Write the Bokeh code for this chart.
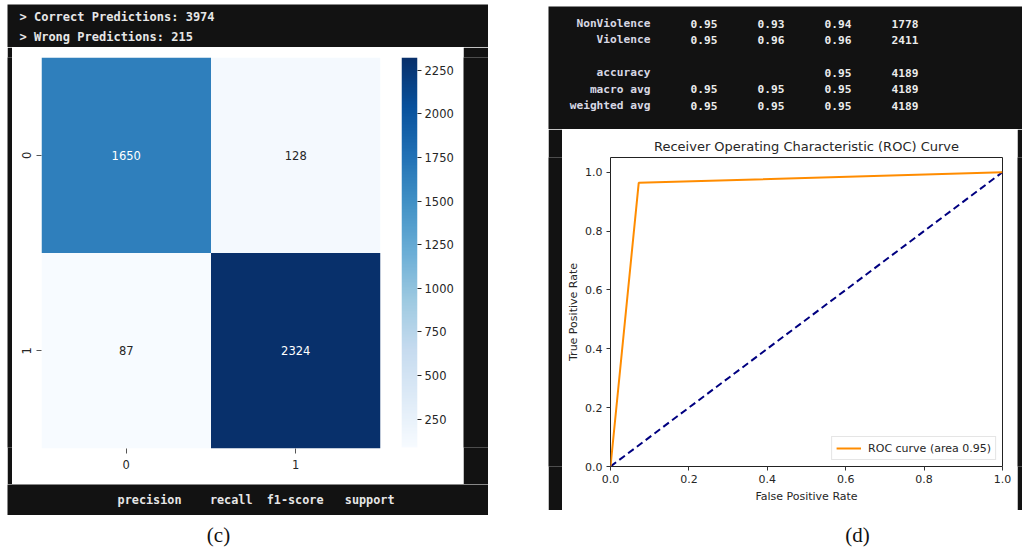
import numpy as np
from bokeh.plotting import figure
from bokeh.layouts import row, column
from bokeh.models import (Range1d, FactorRange, LinearColorMapper, FixedTicker,
                          PrintfTickFormatter, ColumnDataSource, Spacer)
from bokeh.palettes import Blues256
from bokeh.core.properties import value
from bokeh.embed import file_html
from bokeh.resources import INLINE

# ---------------- data ----------------
class_labels = ["0", "1"]
cm_true = ["0", "0", "1", "1"]
cm_pred = ["0", "1", "0", "1"]
cm_counts = [1650, 128, 87, 2324]
cbar_ticks = [250, 500, 750, 1000, 1250, 1500, 1750, 2000, 2250]
correct_predictions = 3974
wrong_predictions = 215

report_header = ["precision", "recall", "f1-score", "support"]
report_rows = ["NonViolence", "Violence", "accuracy", "macro avg", "weighted avg"]
report_lines = [0, 1, 3, 4, 5]
report_precision = ["0.95", "0.95", "", "0.95", "0.95"]
report_recall = ["0.93", "0.96", "", "0.95", "0.95"]
report_f1 = ["0.94", "0.96", "0.95", "0.95", "0.95"]
report_support = ["1778", "2411", "4189", "4189", "4189"]

roc_fpr = [0.0, 0.072, 1.0]
roc_tpr = [0.0, 0.964, 1.0]
roc_auc = 0.95
chance_fpr = [0.0, 1.0]
chance_tpr = [0.0, 1.0]
roc_ticks = [0.0, 0.2, 0.4, 0.6, 0.8, 1.0]

# ---------------- styles ----------------
DARK = "#121212"
MONO = value("DejaVu Sans Mono")
SANS = value("DejaVu Sans")
INK = "#262626"


def deco(w, h, fill):
    f = figure(width=w, height=h, x_range=Range1d(0, w), y_range=Range1d(h, 0),
               output_backend="svg", toolbar_location=None, min_border=0,
               x_axis_location=None, y_axis_location=None)
    f.grid.visible = False
    f.outline_line_color = None
    f.background_fill_color = fill
    f.border_fill_color = fill
    return f


def style_axis(ax, size="11.5px"):
    ax.axis_line_color = None
    ax.major_tick_in = 0
    ax.minor_tick_line_color = None
    ax.major_label_text_font = "DejaVu Sans"
    ax.major_label_text_font_size = size
    ax.major_label_text_color = INK


# ---------------- left panel ----------------
LW = 481
top_left = deco(LW, 43, DARK)
top_left.text(x=[12, 12], y=[12, 32],
              text=[f"> Correct Predictions: {correct_predictions}",
                    f"> Wrong Predictions: {wrong_predictions}"],
              text_font=MONO, text_font_size="12px", text_font_style="bold",
              text_color="#e6e6e6", text_baseline="middle", text_align="left")

lo, hi = min(cm_counts), max(cm_counts)
palette = list(Blues256)[::-1]
mapper = LinearColorMapper(palette=palette, low=lo, high=hi)

src = ColumnDataSource(dict(
    true=cm_true, pred=cm_pred, count=cm_counts,
    label=[str(c) for c in cm_counts],
    tcolor=["white" if c > (lo + hi) / 2 else INK for c in cm_counts]))

hm = figure(x_range=FactorRange(factors=class_labels),
            y_range=FactorRange(factors=class_labels[::-1]),
            frame_width=339, frame_height=391,
            min_border_left=29, min_border_right=21, min_border_top=10, min_border_bottom=36,
            output_backend="svg", toolbar_location=None)
hm.rect(x="pred", y="true", width=1, height=1, source=src,
        fill_color={"field": "count", "transform": mapper}, line_color=None)
hm.text(x="pred", y="true", text="label", source=src, text_color="tcolor",
        text_font=SANS, text_font_size="11.5px", text_align="center", text_baseline="middle")
hm.grid.visible = False
hm.outline_line_color = None
hm.background_fill_color = "white"
hm.border_fill_color = "white"
for ax in (hm.xaxis[0], hm.yaxis[0]):
    style_axis(ax)
    ax.major_tick_out = 5
    ax.major_tick_line_color = "#555555"
    ax.major_label_standoff = 6
hm.yaxis.major_label_orientation = "vertical"

# colour bar as its own narrow plot (gradient through the same colour mapper)
cbf = figure(x_range=Range1d(0, 1), y_range=Range1d(lo, hi),
             frame_width=16, frame_height=390,
             min_border_left=0, min_border_right=46, min_border_top=10, min_border_bottom=37,
             x_axis_location=None, y_axis_location="right",
             output_backend="svg", toolbar_location=None)
cbf.image(image=[np.linspace(lo, hi, 256).reshape(256, 1)], x=0, y=lo, dw=1, dh=hi - lo,
          color_mapper=mapper)
cbf.grid.visible = False
cbf.outline_line_color = None
cbf.background_fill_color = "white"
cbf.border_fill_color = "white"
cbf.yaxis.ticker = FixedTicker(ticks=cbar_ticks)
style_axis(cbf.yaxis[0])
cbf.yaxis.major_tick_out = 4
cbf.yaxis.major_tick_line_color = INK
cbf.yaxis.major_label_standoff = 3

bottom_left = deco(LW, 31, DARK)
hdr_right = [174 + 71 * k for k in range(len(report_header))]
bottom_left.text(x=hdr_right, y=[15] * len(report_header), text=report_header,
                 text_font=MONO, text_font_size="11.8px", text_font_style="bold",
                 text_color="#e6e6e6", text_baseline="middle", text_align="right")

left_panel = column(
    top_left,
    row(deco(5, 437, DARK), hm, cbf, deco(25, 437, DARK)),
    bottom_left,
)

# ---------------- right panel ----------------
RW = 474
top_right = deco(RW, 123, DARK)
label_right = 102
cw = 6.7
row_y = [17 + 16.4 * ln for ln in report_lines]
top_right.text(x=[label_right] * len(report_rows), y=row_y, text=report_rows,
               text_font=MONO, text_font_size="11.2px", text_font_style="bold",
               text_color="#d8d8e4", text_baseline="middle", text_align="right")
for k, colvals in enumerate([report_precision, report_recall, report_f1, report_support]):
    top_right.text(x=[label_right + cw * 10 * (k + 1)] * len(colvals), y=row_y, text=colvals,
                   text_font=MONO, text_font_size="11.2px", text_font_style="bold",
                   text_color="#ececec", text_baseline="middle", text_align="right")

roc = figure(x_range=Range1d(0, 1), y_range=Range1d(0, 1.05),
             frame_width=392, frame_height=309,
             min_border_left=48, min_border_right=15, min_border_top=28, min_border_bottom=44,
             title="Receiver Operating Characteristic (ROC) Curve",
             output_backend="svg", toolbar_location=None)
roc.line(chance_fpr, chance_tpr, line_color="navy", line_width=2, line_dash="7 4")
roc.line(roc_fpr, roc_tpr, line_color="darkorange", line_width=2,
         legend_label=f"ROC curve (area {roc_auc:.2f})")
roc.grid.visible = False
roc.background_fill_color = "white"
roc.border_fill_color = "white"
roc.outline_line_color = "#222222"
roc.outline_line_width = 1
roc.title.align = "center"
roc.title.text_font = "DejaVu Sans"
roc.title.text_font_size = "13px"
roc.title.text_font_style = "normal"
roc.title.text_color = INK
roc.title.standoff = 7
for ax in (roc.xaxis[0], roc.yaxis[0]):
    style_axis(ax, "11px")
    ax.ticker = FixedTicker(ticks=roc_ticks)
    ax.formatter = PrintfTickFormatter(format="%.1f")
    ax.major_tick_out = 4
    ax.major_tick_line_color = "#333333"
    ax.major_label_standoff = 4
    ax.axis_label_text_font = "DejaVu Sans"
    ax.axis_label_text_font_size = "11px"
    ax.axis_label_text_font_style = "normal"
    ax.axis_label_text_color = INK
roc.xaxis.axis_label = "False Positive Rate"
roc.yaxis.axis_label = "True Positive Rate"
roc.xaxis.axis_label_standoff = 4
roc.yaxis.axis_label_standoff = 2
roc.yaxis.major_label_orientation = "horizontal"

lg = roc.legend[0]
lg.location = "bottom_right"
lg.margin = 6
lg.padding = 4
lg.spacing = 0
lg.border_line_color = "#cccccc"
lg.border_line_width = 1
lg.background_fill_color = "white"
lg.background_fill_alpha = 0.8
lg.label_text_font = "DejaVu Sans"
lg.label_text_font_size = "11px"
lg.label_text_color = INK
lg.label_height = 14
lg.glyph_height = 14
lg.glyph_width = 25
lg.label_standoff = 7

right_panel = column(
    Spacer(width=RW, height=2),
    top_right,
    row(deco(14, 381, DARK), roc, deco(5, 381, DARK)),
    deco(RW, 5, DARK),
)

# ---------------- captions ----------------
captions = deco(1022, 37, "white")
captions.text(x=[218, 857], y=[19, 19], text=["(c)", "(d)"],
              text_font=value("Liberation Serif"), text_font_size="21px",
              text_color="#111111", text_align="center", text_baseline="middle")

layout = column(
    Spacer(width=1022, height=4),
    row(Spacer(width=7, height=511), left_panel, Spacer(width=60, height=511), right_panel),
    captions,
)

open("out.html", "w").write(file_html(layout, INLINE))
